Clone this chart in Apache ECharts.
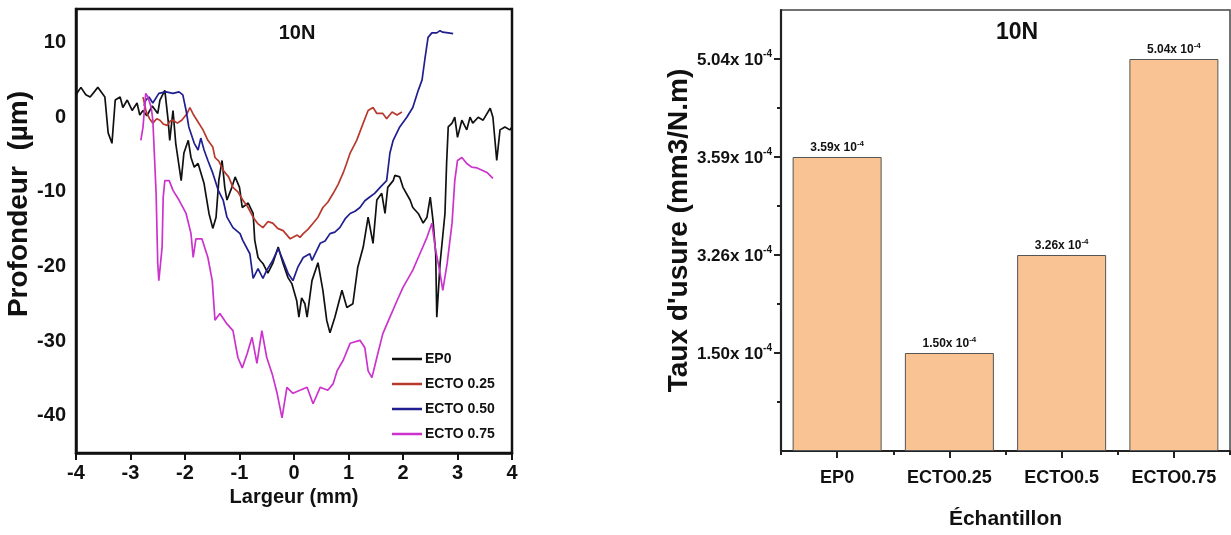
<!DOCTYPE html>
<html><head><meta charset="utf-8">
<script src="https://cdn.jsdelivr.net/npm/echarts@6/dist/echarts.min.js"></script>
<style>html,body{margin:0;padding:0;background:#fff}#c{width:1231px;height:535px}</style>
</head><body><div id="c"></div>
<script>
// ---- Left panel: depth profiles (x in mm, y in µm) ----
const ep0 = [[-4.0,3.0],[-3.91,4.0],[-3.82,3.0],[-3.74,2.7],[-3.6,4.0],[-3.47,2.7],[-3.41,-2.1],[-3.34,-3.5],[-3.28,2.3],[-3.19,2.7],[-3.14,1.3],[-3.06,2.3],[-2.97,0.9],[-2.88,1.9],[-2.83,0.3],[-2.77,0.9],[-2.7,0.2],[-2.6,1.5],[-2.5,0.5],[-2.46,2.3],[-2.37,3.6],[-2.31,-0.4],[-2.28,-3.1],[-2.22,0.9],[-2.17,-3.5],[-2.07,-8.5],[-2.02,-4.8],[-1.94,-3.1],[-1.89,-5.4],[-1.83,-6.7],[-1.76,-6.2],[-1.65,-8.9],[-1.56,-12.9],[-1.49,-14.9],[-1.43,-13.4],[-1.38,-8.5],[-1.32,-5.8],[-1.27,-9.4],[-1.23,-11.1],[-1.14,-9.4],[-1.08,-8.0],[-1.0,-9.4],[-0.95,-12.1],[-0.84,-11.5],[-0.75,-12.9],[-0.72,-16.5],[-0.66,-18.8],[-0.62,-19.2],[-0.57,-19.6],[-0.48,-20.9],[-0.39,-19.6],[-0.29,-17.4],[-0.2,-19.6],[-0.11,-21.5],[-0.04,-22.3],[0.05,-24.6],[0.09,-26.8],[0.14,-24.2],[0.2,-25.0],[0.24,-26.8],[0.33,-21.9],[0.44,-19.5],[0.53,-23.2],[0.6,-27.2],[0.66,-28.9],[0.75,-26.8],[0.88,-23.2],[0.97,-25.5],[1.08,-25.0],[1.17,-20.1],[1.27,-17.4],[1.36,-13.4],[1.45,-16.9],[1.52,-11.1],[1.61,-10.2],[1.67,-12.9],[1.72,-9.4],[1.82,-8.5],[1.85,-7.8],[1.94,-8.0],[2.0,-9.4],[2.13,-11.1],[2.18,-12.1],[2.28,-12.9],[2.37,-14.2],[2.44,-13.4],[2.5,-10.7],[2.55,-13.8],[2.6,-18.3],[2.62,-26.8],[2.68,-19.6],[2.77,-12.9],[2.8,-6.2],[2.83,-1.3],[2.9,-0.8],[2.95,0.0],[3.0,-2.7],[3.08,-0.4],[3.17,-1.7],[3.23,0.0],[3.28,-0.8],[3.38,0.0],[3.47,-0.4],[3.6,1.2],[3.65,0.0],[3.72,-5.8],[3.78,-1.7],[3.87,-1.3],[3.96,-1.7],[4.0,-1.3]];
const ecto025 = [[-2.77,2.7],[-2.72,1.0],[-2.7,0.5],[-2.65,-0.2],[-2.59,-0.8],[-2.52,-0.2],[-2.46,-0.4],[-2.4,-0.9],[-2.33,-1.1],[-2.27,-0.5],[-2.22,-0.4],[-2.14,-0.8],[-2.06,-0.4],[-1.96,0.5],[-1.91,1.3],[-1.85,0.4],[-1.78,-0.4],[-1.67,-1.7],[-1.58,-3.1],[-1.49,-4.0],[-1.45,-5.4],[-1.38,-5.9],[-1.3,-7.1],[-1.2,-8.0],[-1.12,-9.4],[-1.03,-10.0],[-0.94,-11.1],[-0.85,-12.0],[-0.75,-13.4],[-0.66,-14.3],[-0.57,-14.8],[-0.48,-14.0],[-0.39,-14.2],[-0.3,-14.9],[-0.2,-15.2],[-0.07,-16.3],[0.06,-15.8],[0.11,-16.1],[0.17,-15.6],[0.26,-15.0],[0.35,-14.2],[0.44,-13.4],[0.53,-12.1],[0.62,-11.4],[0.72,-10.2],[0.81,-9.0],[0.9,-7.5],[0.96,-6.3],[1.03,-4.8],[1.15,-3.1],[1.27,-0.8],[1.36,0.9],[1.45,1.3],[1.52,0.5],[1.63,0.5],[1.7,-0.2],[1.8,0.7],[1.89,0.3],[1.98,0.7]];
const ecto050 = [[-2.75,1.5],[-2.72,2.3],[-2.66,2.7],[-2.59,1.9],[-2.48,3.2],[-2.35,3.4],[-2.22,3.2],[-2.11,3.4],[-2.04,3.0],[-1.98,0.9],[-1.93,-1.3],[-1.83,-3.5],[-1.76,-4.4],[-1.71,-2.8],[-1.65,-4.4],[-1.58,-5.8],[-1.49,-7.5],[-1.39,-9.8],[-1.3,-11.1],[-1.23,-13.4],[-1.12,-14.8],[-0.99,-15.6],[-0.94,-16.5],[-0.81,-18.3],[-0.75,-21.6],[-0.66,-20.3],[-0.57,-21.6],[-0.5,-20.5],[-0.39,-19.2],[-0.29,-17.6],[-0.2,-19.2],[-0.11,-20.9],[-0.02,-21.9],[0.07,-20.1],[0.17,-18.8],[0.29,-18.3],[0.33,-19.2],[0.48,-16.9],[0.57,-16.6],[0.66,-15.6],[0.75,-15.4],[0.84,-14.8],[0.94,-13.6],[1.03,-12.9],[1.12,-12.6],[1.21,-12.1],[1.3,-11.2],[1.39,-10.7],[1.48,-10.2],[1.58,-9.4],[1.7,-8.5],[1.76,-4.8],[1.82,-3.1],[1.94,-1.3],[2.07,0.0],[2.18,1.3],[2.28,3.6],[2.35,5.0],[2.4,7.7],[2.46,10.7],[2.53,11.3],[2.62,11.3],[2.68,11.6],[2.73,11.4],[2.83,11.3],[2.92,11.2]];
const ecto075 = [[-2.81,-3.1],[-2.77,-1.3],[-2.72,3.2],[-2.68,2.7],[-2.62,1.3],[-2.59,-0.4],[-2.53,-10.2],[-2.5,-19.6],[-2.48,-21.9],[-2.42,-17.4],[-2.4,-10.7],[-2.37,-8.5],[-2.29,-8.5],[-2.22,-9.8],[-2.11,-11.1],[-1.98,-12.9],[-1.89,-15.6],[-1.85,-18.8],[-1.8,-16.3],[-1.69,-16.3],[-1.58,-18.8],[-1.5,-21.9],[-1.45,-27.2],[-1.36,-26.3],[-1.23,-27.7],[-1.12,-28.6],[-1.03,-32.2],[-0.95,-33.6],[-0.86,-31.7],[-0.77,-29.5],[-0.68,-33.0],[-0.59,-28.6],[-0.5,-32.2],[-0.4,-34.4],[-0.31,-37.0],[-0.22,-40.3],[-0.13,-36.2],[-0.02,-37.0],[0.11,-36.6],[0.24,-36.2],[0.35,-38.4],[0.48,-36.2],[0.62,-36.6],[0.72,-35.7],[0.79,-34.0],[0.9,-32.6],[1.03,-30.3],[1.21,-29.9],[1.3,-30.9],[1.36,-34.0],[1.43,-34.9],[1.52,-32.2],[1.63,-29.0],[1.76,-26.8],[1.89,-24.6],[2.0,-22.8],[2.18,-20.5],[2.31,-18.3],[2.44,-16.1],[2.53,-14.2],[2.59,-17.4],[2.68,-20.9],[2.73,-23.2],[2.81,-19.6],[2.9,-14.2],[2.95,-8.5],[3.0,-5.8],[3.08,-5.4],[3.17,-6.2],[3.26,-6.7],[3.36,-6.8],[3.45,-7.1],[3.54,-7.4],[3.65,-8.2]];
const profileNames = ['EP0', 'ECTO 0.25', 'ECTO 0.50', 'ECTO 0.75'];
const depthTicks = [-40, -30, -20, -10, 0, 10];

// ---- Right panel: wear rate (x10^-4 mm3/N.m) ----
const samples = ['EP0', 'ECTO0.25', 'ECTO0.5', 'ECTO0.75'];
const wearRates = [3.59, 1.50, 3.26, 5.04];
const wearTickLabels = ['1.50', '3.26', '3.59', '5.04'];

const FONT = "'Liberation Sans', Arial, sans-serif";
const INK = '#111';
// the original wear-rate axis is ordinal: each labelled tick is one equal step
const wearLevel = v => wearTickLabels.indexOf(v.toFixed(2)) + 1;
const supRich = (size, sup) => ({
  b: { fontFamily: FONT, fontWeight: 'bold', fontSize: size, color: INK, lineHeight: size + 2, verticalAlign: 'bottom' },
  s: { fontFamily: FONT, fontWeight: 'bold', fontSize: sup, color: INK, lineHeight: sup + 4, verticalAlign: 'top' }
});

const chart = echarts.init(document.getElementById('c'), null, { renderer: 'canvas' });
const profileColors = ['#111111', '#b8392e', '#1f1f8f', '#cc33cc'];
const profiles = [ep0, ecto025, ecto050, ecto075];

chart.setOption({
  animation: false,
  backgroundColor: '#fff',
  textStyle: { fontFamily: FONT },
  title: [
    { text: '10N', left: 297, top: 23, textAlign: 'center', padding: 0,
      textStyle: { fontFamily: FONT, fontWeight: 'bold', fontSize: 20, color: INK } },
    { text: '10N', left: 1017, top: 21, textAlign: 'center', padding: 0,
      textStyle: { fontFamily: FONT, fontWeight: 'bold', fontSize: 23, color: INK } }
  ],
  legend: {
    data: profileNames, left: 392, top: 352, orient: 'vertical', padding: 0,
    icon: 'rect', itemWidth: 30, itemHeight: 2.5, itemGap: 11,
    textStyle: { fontFamily: FONT, fontWeight: 'bold', fontSize: 14, lineHeight: 14, color: INK, padding: [0, 0, 0, -2] }
  },
  grid: [
    { left: 76, top: 9, width: 436, height: 444, show: true, borderColor: INK, borderWidth: 2.5, containLabel: false },
    { left: 781, top: 10, width: 449, height: 443, show: true, borderColor: '#444', borderWidth: 1.5, containLabel: false }
  ],
  xAxis: [
    { gridIndex: 0, type: 'value', min: -4, max: 4, interval: 1,
      axisLine: { show: true, onZero: false, lineStyle: { color: INK, width: 2.5 } },
      axisTick: { show: true, inside: false, length: 7, lineStyle: { color: INK, width: 2 } },
      axisLabel: { fontFamily: FONT, fontWeight: 'bold', fontSize: 20, color: INK, margin: 10 },
      splitLine: { show: false },
      name: 'Largeur (mm)', nameLocation: 'middle', nameGap: 32,
      nameTextStyle: { fontFamily: FONT, fontWeight: 'bold', fontSize: 20, color: INK } },
    { gridIndex: 1, type: 'category', data: samples,
      axisLine: { show: true, lineStyle: { color: '#222', width: 2.2 } },
      axisTick: { show: true, alignWithLabel: true, length: 7, lineStyle: { color: '#222', width: 2 } },
      axisLabel: { fontFamily: FONT, fontWeight: 'bold', fontSize: 18, color: INK, margin: 18 },
      name: 'Échantillon', nameLocation: 'middle', nameGap: 58,
      nameTextStyle: { fontFamily: FONT, fontWeight: 'bold', fontSize: 21, color: INK } },
    { gridIndex: 1, type: 'category', data: samples, position: 'bottom', offset: 0,
      axisLine: { show: false },
      axisTick: { show: true, alignWithLabel: false, length: 4, lineStyle: { color: '#222', width: 2 } },
      axisLabel: { show: false } }
  ],
  yAxis: [
    { gridIndex: 0, type: 'value', min: -45, max: 14.5,
      axisLine: { show: true, onZero: false, lineStyle: { color: INK, width: 2.5 } },
      axisTick: { show: false },
      axisLabel: { customValues: depthTicks, fontFamily: FONT, fontWeight: 'bold', fontSize: 20, color: INK, margin: 10 },
      splitLine: { show: false },
      name: 'Profondeur  (µm)', nameLocation: 'middle', nameGap: 40,
      nameTextStyle: { fontFamily: FONT, fontWeight: 'bold', fontSize: 28, color: INK, padding: [0, 0, 0, 54] } },
    { gridIndex: 1, type: 'value', min: 0, max: 4.5,
      axisLine: { show: true, onZero: false, lineStyle: { color: '#222', width: 2.2 } },
      axisTick: { show: true, customValues: [1, 2, 3, 4], length: 7, lineStyle: { color: '#222', width: 2 } },
      axisLabel: { customValues: [1, 2, 3, 4], margin: 9,
        formatter: v => '{b|' + wearTickLabels[v - 1] + 'x 10}{s|-4}', rich: supRich(17, 10) },
      splitLine: { show: false },
      name: "Taux d'usure (mm3/N.m)", nameLocation: 'middle', nameGap: 86,
      nameTextStyle: { fontFamily: FONT, fontWeight: 'bold', fontSize: 28, color: INK } },
    { gridIndex: 1, type: 'value', min: 0, max: 4.5, position: 'left', offset: 0,
      axisLine: { show: false },
      axisTick: { show: true, customValues: [0.5, 1.5, 2.5, 3.5], length: 4, lineStyle: { color: '#222', width: 2 } },
      axisLabel: { show: false }, splitLine: { show: false } }
  ],
  series: profiles.map((d, i) => ({
    name: profileNames[i], type: 'line', xAxisIndex: 0, yAxisIndex: 0,
    data: d, showSymbol: false, symbol: 'none',
    lineStyle: { color: profileColors[i], width: 1.7 }, itemStyle: { color: profileColors[i] }
  })).concat([{
    name: 'wear', type: 'bar', xAxisIndex: 1, yAxisIndex: 1,
    data: wearRates.map(wearLevel), barWidth: 89,
    itemStyle: { color: '#f9c393', borderColor: '#555', borderWidth: 1 },
    label: { show: true, position: 'top', distance: 3,
      formatter: p => '{b|' + wearRates[p.dataIndex].toFixed(2) + 'x 10}{s|-4}', rich: supRich(12, 8) }
  }])
});
</script></body></html>
